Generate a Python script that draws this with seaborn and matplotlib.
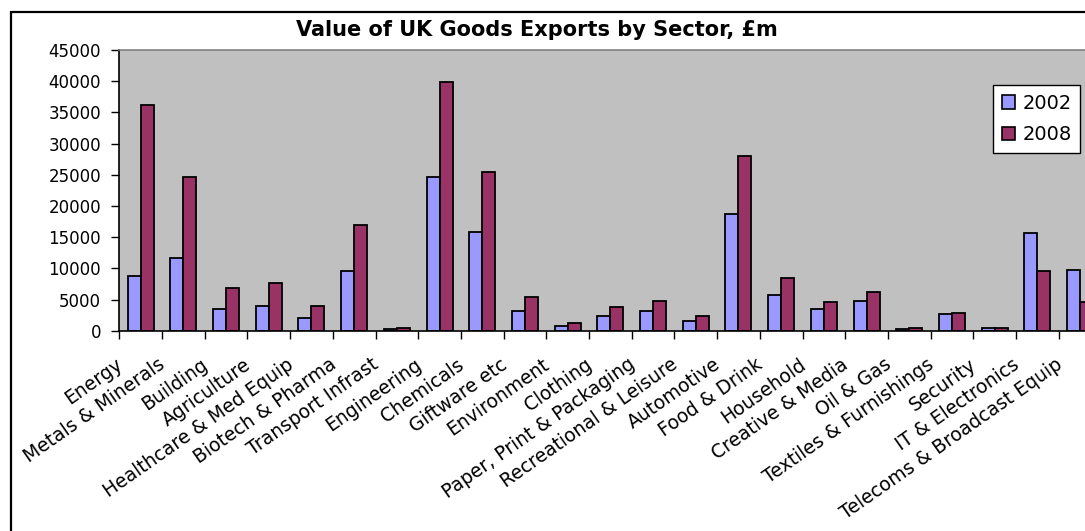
import matplotlib
matplotlib.use("Agg")
import matplotlib.pyplot as plt
from matplotlib.patches import Rectangle, Patch
import numpy as np
import pandas as pd
import seaborn as sns

sectors = [
    "Energy", "Metals & Minerals", "Building", "Agriculture",
    "Healthcare & Med Equip", "Biotech & Pharma", "Transport Infrast",
    "Engineering", "Chemicals", "Giftware etc", "Environment", "Clothing",
    "Paper, Print & Packaging", "Recreational & Leisure", "Automotive",
    "Food & Drink", "Household", "Creative & Media", "Oil & Gas",
    "Textiles & Furnishings", "Security", "IT & Electronics",
    "Telecoms & Broadcast Equip",
]
exports_2002 = [8700, 11700, 3450, 4000, 2100, 9600, 200, 24600, 15800, 3200,
                750, 2350, 3200, 1500, 18700, 5700, 3500, 4800, 200, 2700,
                500, 15600, 9800]
exports_2008 = [36200, 24600, 6800, 7600, 4000, 16900, 500, 39800, 25500, 5400,
                1300, 3750, 4800, 2400, 28000, 8400, 4550, 6200, 500, 2900,
                500, 9500, 4550]
years = ["2002", "2008"]
y_ticks = list(range(0, 45001, 5000))
title = "Value of UK Goods Exports by Sector, £m"

colors = {"2002": "#9999FF", "2008": "#993366"}

df = pd.DataFrame({
    "sector": sectors * 2,
    "year": [years[0]] * len(sectors) + [years[1]] * len(sectors),
    "value": exports_2002 + exports_2008,
})

sns.set_style("white")
plt.rcParams["font.family"] = ["DejaVu Sans"]
plt.rcParams["text.color"] = "black"
plt.rcParams["xtick.color"] = "black"
plt.rcParams["ytick.color"] = "black"
plt.rcParams["xtick.labelcolor"] = "black"
plt.rcParams["ytick.labelcolor"] = "black"

W, H = 1085, 531
fig = plt.figure(figsize=(W / 100, H / 100), dpi=100)
fig.patch.set_facecolor("white")

# outer chart frame (runs past the right and bottom edges)
fig.patches.append(Rectangle((11 / W, -0.2), 1.2, 0.2 + (H - 12) / H,
                             transform=fig.transFigure, fill=False,
                             edgecolor="black", linewidth=1.6, zorder=0))

left, right = 119.3, 1101.4
top, bottom = 50, 330.7
ax = fig.add_axes([left / W, (H - bottom) / H, (right - left) / W, (bottom - top) / H])
ax.set_facecolor("#C0C0C0")

sns.barplot(data=df, x="sector", y="value", hue="year", palette=colors,
            width=0.61, edgecolor="black", linewidth=1.3, saturation=1,
            ax=ax, legend=False)

n = len(sectors)
ax.set_xlim(-0.5, n - 0.5)
ax.set_ylim(0, 45000)
ax.set_yticks(y_ticks)
ax.set_yticklabels([str(t) for t in y_ticks], fontsize=12, color="black")
ax.set_xlabel("")
ax.set_ylabel("")

# category labels sit a little left of each slot centre (rotated text ends
# just short of the bars); tick marks go on the category boundaries
label_shift = 20 / ((right - left) / n)
ax.set_xticks(np.arange(n) - label_shift)
ax.set_xticklabels(sectors, rotation=35, ha="right", va="center",
                   rotation_mode="anchor", fontsize=13.5, color="black")
ax.set_xticks(np.arange(n + 1) - 0.5, minor=True)
ax.tick_params(axis="x", which="major", length=0, pad=23)
ax.tick_params(axis="x", which="minor", length=6, width=1, color="black",
               direction="out", bottom=True)
ax.tick_params(axis="y", length=6, width=1, color="black", direction="out",
               left=True, pad=7)

for side in ("left", "bottom"):
    ax.spines[side].set_color("black")
    ax.spines[side].set_linewidth(1.2)
ax.spines["top"].set_color("#808080")
ax.spines["top"].set_linewidth(1.2)
ax.spines["right"].set_visible(False)

handles = [Patch(facecolor=colors[y], edgecolor="black", linewidth=1.2, label=y)
           for y in years]
leg = ax.legend(handles=handles, loc="upper left",
                bbox_to_anchor=(993 / W, 1 - 85 / H), bbox_transform=fig.transFigure,
                frameon=True, fancybox=False, edgecolor="black", framealpha=1,
                fontsize=14, handlelength=0.7, handleheight=0.7,
                handletextpad=0.35, labelspacing=0.65, borderpad=0.45,
                borderaxespad=0)
leg.get_frame().set_linewidth(1.0)
for t in leg.get_texts():
    t.set_color("black")

fig.text(537 / W, 1 - 30 / H, title, ha="center", va="center",
         fontsize=15, fontweight="bold", color="black")

fig.savefig("out.png", dpi=100)
